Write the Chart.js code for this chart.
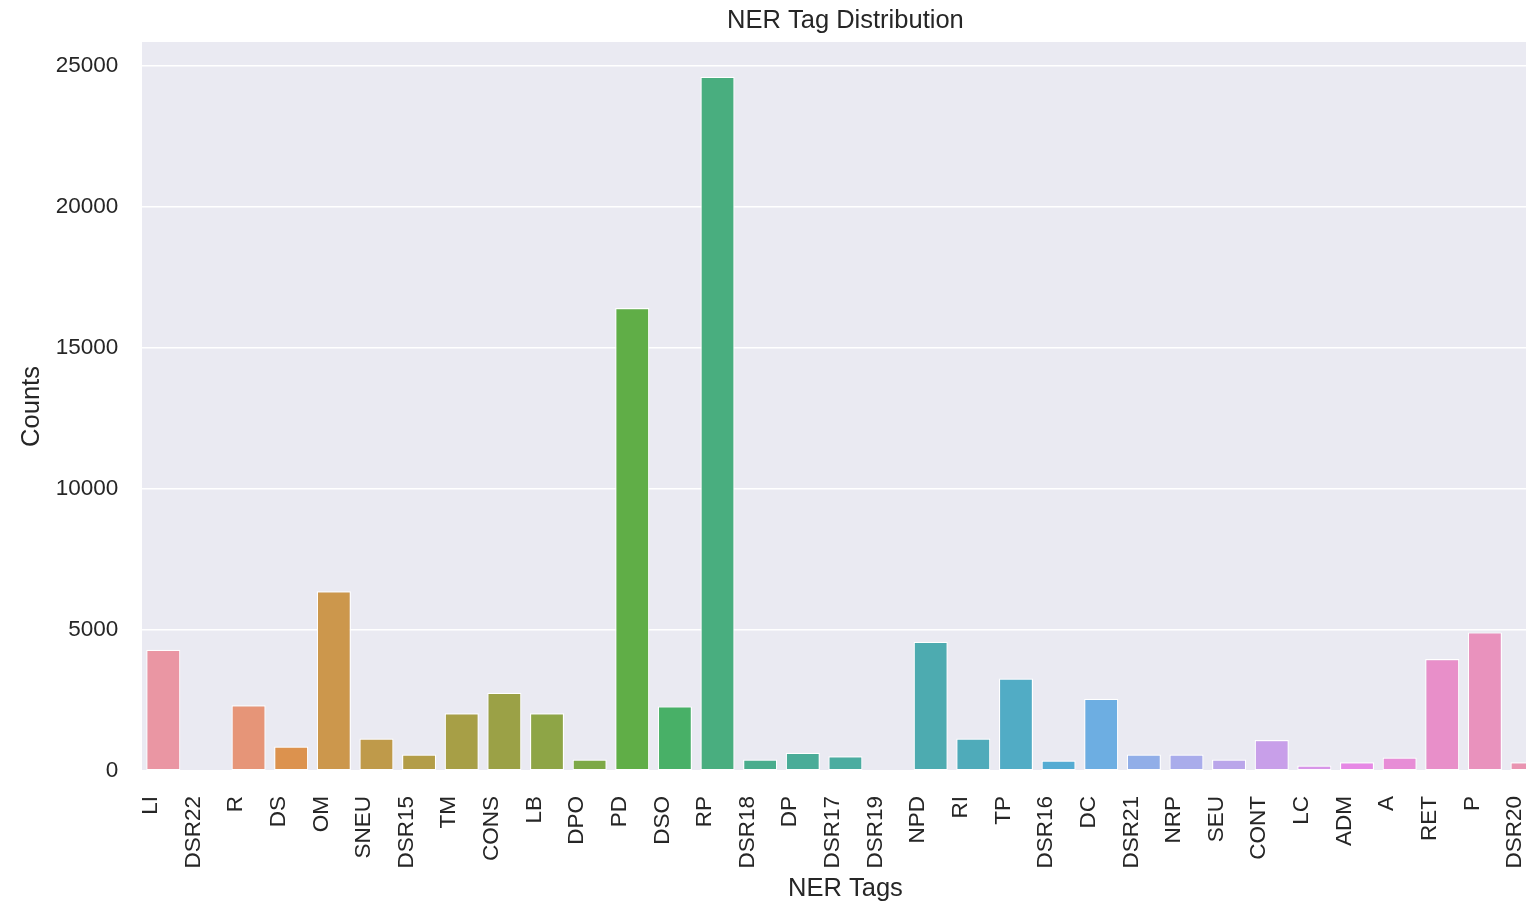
<!DOCTYPE html>
<html>
<head>
<meta charset="utf-8">
<title>NER Tag Distribution</title>
<script src="https://cdn.jsdelivr.net/npm/chart.js@4.4.1/dist/chart.umd.min.js"></script>
<style>
  html, body { margin: 0; padding: 0; background: #ffffff; overflow: hidden; }
  #chart-ner-tags { display: block; }
</style>
</head>
<body>
<canvas id="chart-ner-tags" width="1580" height="906"></canvas>
<script>
// data
const nerTags = ['LI', 'DSR22', 'R', 'DS', 'OM', 'SNEU', 'DSR15', 'TM', 'CONS', 'LB', 'DPO',
  'PD', 'DSO', 'RP', 'DSR18', 'DP', 'DSR17', 'DSR19', 'NPD', 'RI', 'TP', 'DSR16', 'DC',
  'DSR21', 'NRP', 'SEU', 'CONT', 'LC', 'ADM', 'A', 'RET', 'P', 'DSR20'];
const tagCounts = [4300, 5, 2330, 870, 6370, 1150, 585, 2050, 2775, 2050, 410,
  16420, 2290, 24620, 410, 645, 525, 15, 4585, 1150, 3280, 375, 2560,
  585, 585, 410, 1095, 195, 310, 480, 3970, 4915, 310];
const countTicks = [0, 5000, 10000, 15000, 20000, 25000];

const FONT = "'Liberation Sans', Arial, sans-serif";
const TEXT_COLOR = '#262626';

// seaborn barplot colours: husl palette (l=.7) then desaturated to .75
const HUSL_M = [[3.2406, -1.5372, -0.4986], [-0.9689, 1.8758, 0.0415], [0.0557, -0.2040, 1.0570]];

function maxChroma(L, H) {
  const hrad = H / 360 * 2 * Math.PI;
  const sinH = Math.sin(hrad), cosH = Math.cos(hrad);
  const sub1 = Math.pow(L + 16, 3) / 1560896;
  const sub2 = sub1 > 0.008856 ? sub1 : L / 903.3;
  let result = Infinity;
  HUSL_M.forEach(([m1, m2, m3]) => {
    const top = (0.99915 * m1 + 1.05122 * m2 + 1.14460 * m3) * sub2;
    const rbottom = 0.86330 * m3 - 0.17266 * m2;
    const lbottom = 0.12949 * m3 - 0.38848 * m1;
    const bottom = (rbottom * sinH + lbottom * cosH) * sub2;
    [0, 1].forEach(t => {
      const C = L * (top - 1.05122 * t) / (bottom + 0.17266 * sinH * t);
      if (C > 0 && C < result) result = C;
    });
  });
  return result;
}

function huslToRgb(H, S, L) {
  const C = maxChroma(L, H) / 100 * S;
  const hrad = H / 360 * 2 * Math.PI;
  const U = Math.cos(hrad) * C, V = Math.sin(hrad) * C;
  const Y = Math.pow((L + 16) / 116, 3);
  const varU = U / (13 * L) + 0.19784;
  const varV = V / (13 * L) + 0.46834;
  const X = -(9 * Y * varU) / ((varU - 4) * varV - varU * varV);
  const Z = (9 * Y - 15 * varV * Y - varV * X) / (3 * varV);
  return HUSL_M.map(([a, b, c]) => {
    const lin = a * X + b * Y + c * Z;
    const v = lin <= 0.0031308 ? 12.92 * lin : 1.055 * Math.pow(lin, 1 / 2.4) - 0.055;
    return Math.min(1, Math.max(0, v));
  });
}

function desaturate(rgb, prop) {
  const l = (Math.max(...rgb) + Math.min(...rgb)) / 2;
  return rgb.map(c => l + (c - l) * prop);
}

const barColors = nerTags.map((tag, i) => {
  const hue = ((i / nerTags.length + 0.01) % 1) * 359;
  const rgb = desaturate(huslToRgb(hue, 0.9 * 99, 0.7 * 99), 0.75);
  return 'rgb(' + rgb.map(c => Math.round(c * 255)).join(',') + ')';
});

// grey plot background like seaborn darkgrid
const plotBackground = {
  id: 'plotBackground',
  beforeDraw(chart) {
    const { ctx, chartArea } = chart;
    ctx.save();
    ctx.fillStyle = '#EAEAF2';
    ctx.fillRect(chartArea.left, chartArea.top, chartArea.right - chartArea.left, chartArea.bottom - chartArea.top);
    ctx.restore();
  }
};

const ctx = document.getElementById('chart-ner-tags').getContext('2d');
const chartNerTags = new Chart(ctx, {
  type: 'bar',
  data: {
    labels: nerTags,
    datasets: [{
      label: 'Counts',
      data: tagCounts,
      backgroundColor: barColors,
      borderColor: '#ffffff',
      borderWidth: 1.2,
      borderSkipped: false,
      categoryPercentage: 1.0,
      barPercentage: 0.8
    }]
  },
  options: {
    responsive: false,
    animation: false,
    layout: { padding: { left: 0, right: 12, top: 0, bottom: 0 } },
    scales: {
      x: {
        grid: { display: false, drawTicks: false },
        border: { display: false },
        ticks: {
          color: TEXT_COLOR,
          font: { family: FONT, size: 22.5 },
          minRotation: 90,
          maxRotation: 90,
          autoSkip: false,
          padding: 25,
          labelOffset: -12.5
        },
        title: {
          display: true,
          text: 'NER Tags',
          color: TEXT_COLOR,
          font: { family: FONT, size: 25.5 },
          padding: { top: 0, bottom: 1.5 }
        },
        afterFit: scale => { scale.height = 135; }
      },
      y: {
        min: 0,
        max: Math.max(...tagCounts) * 1.05,
        grid: { color: '#ffffff', lineWidth: 1.6, drawTicks: false },
        border: { display: false },
        afterBuildTicks: axis => { axis.ticks = countTicks.map(v => ({ value: v })); },
        ticks: {
          color: TEXT_COLOR,
          font: { family: FONT, size: 22.5 },
          padding: 23.7,
          callback: value => String(value)
        },
        title: {
          display: true,
          text: 'Counts',
          color: TEXT_COLOR,
          font: { family: FONT, size: 25.5 },
          padding: { top: 16.4, bottom: 0 }
        },
        afterFit: scale => { scale.width = 142; }
      }
    },
    plugins: {
      legend: { display: false },
      tooltip: { enabled: false },
      title: {
        display: true,
        text: 'NER Tag Distribution',
        fullSize: false,
        color: TEXT_COLOR,
        font: { family: FONT, size: 25.5, weight: 'normal' },
        padding: { top: 6, bottom: 5.4 }
      }
    }
  },
  plugins: [plotBackground]
});
</script>
</body>
</html>
